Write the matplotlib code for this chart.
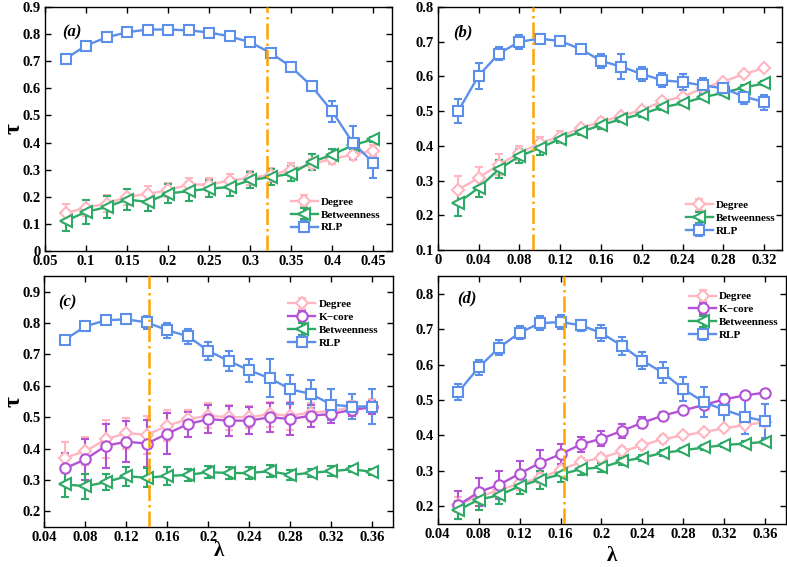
import matplotlib
matplotlib.use("Agg")
import matplotlib.pyplot as plt
from matplotlib.ticker import FuncFormatter

plt.rcParams['font.family'] = ['Liberation Serif', 'DejaVu Serif']
plt.rcParams['font.weight'] = 'bold'

# ---------------- data ----------------
# panel (a)
xa = [0.075, 0.1, 0.125, 0.15, 0.175, 0.2, 0.225, 0.25, 0.275, 0.3, 0.325, 0.35, 0.375, 0.4, 0.425, 0.45]
a_deg = [0.14, 0.16, 0.175, 0.20, 0.21, 0.225, 0.245, 0.245, 0.26, 0.27, 0.28, 0.30, 0.32, 0.34, 0.355, 0.37]
a_deg_e = [0.035, 0.03, 0.03, 0.03, 0.03, 0.025, 0.025, 0.025, 0.025, 0.025, 0.025, 0.025, 0.02, 0.02, 0.02, 0.02]
a_btw = [0.111, 0.144, 0.162, 0.19, 0.181, 0.212, 0.221, 0.23, 0.236, 0.261, 0.273, 0.285, 0.328, 0.355, 0.39, 0.412]
a_btw_e = [0.037, 0.045, 0.04, 0.038, 0.035, 0.035, 0.035, 0.032, 0.032, 0.03, 0.03, 0.028, 0.03, 0.022, 0.015, 0.01]
a_rlp = [0.709, 0.758, 0.788, 0.807, 0.817, 0.817, 0.814, 0.806, 0.792, 0.770, 0.731, 0.679, 0.608, 0.515, 0.40, 0.326]
a_rlp_e = [0.005, 0.006, 0.005, 0.005, 0.005, 0.005, 0.005, 0.005, 0.005, 0.006, 0.01, 0.012, 0.012, 0.04, 0.06, 0.055]
a_vline = 0.32

# panel (b)
xb = [0.02, 0.04, 0.06, 0.08, 0.1, 0.12, 0.14, 0.16, 0.18, 0.2, 0.22, 0.24, 0.26, 0.28, 0.3, 0.32]
b_deg = [0.274, 0.308, 0.346, 0.379, 0.408, 0.427, 0.451, 0.47, 0.486, 0.504, 0.528, 0.542, 0.566, 0.585, 0.607, 0.624]
b_deg_e = [0.04, 0.03, 0.03, 0.02, 0.018, 0.015, 0.01, 0.01, 0.008, 0.008, 0.008, 0.008, 0.008, 0.008, 0.006, 0.006]
b_btw = [0.236, 0.279, 0.333, 0.37, 0.394, 0.42, 0.44, 0.46, 0.477, 0.492, 0.511, 0.523, 0.54, 0.553, 0.568, 0.58]
b_btw_e = [0.038, 0.027, 0.025, 0.02, 0.02, 0.012, 0.01, 0.01, 0.008, 0.008, 0.008, 0.006, 0.006, 0.006, 0.006, 0.006]
b_rlp = [0.50, 0.602, 0.666, 0.70, 0.709, 0.702, 0.679, 0.645, 0.628, 0.607, 0.589, 0.584, 0.574, 0.566, 0.542, 0.526]
b_rlp_e = [0.034, 0.037, 0.02, 0.02, 0.012, 0.012, 0.012, 0.021, 0.036, 0.02, 0.02, 0.024, 0.022, 0.02, 0.022, 0.022]
b_vline = 0.093

# panel (c)
xc = [0.06, 0.08, 0.1, 0.12, 0.14, 0.16, 0.18, 0.2, 0.22, 0.24, 0.26, 0.28, 0.3, 0.32, 0.34, 0.36]
c_deg = [0.371, 0.392, 0.43, 0.449, 0.444, 0.473, 0.494, 0.505, 0.50, 0.50, 0.51, 0.505, 0.515, 0.52, 0.531, 0.537]
c_deg_e = [0.05, 0.045, 0.06, 0.05, 0.06, 0.05, 0.03, 0.04, 0.04, 0.035, 0.04, 0.045, 0.03, 0.03, 0.02, 0.02]
c_kc = [0.337, 0.366, 0.409, 0.422, 0.416, 0.448, 0.478, 0.494, 0.489, 0.489, 0.50, 0.494, 0.505, 0.51, 0.524, 0.531]
c_kc_e = [0.05, 0.065, 0.07, 0.065, 0.075, 0.065, 0.04, 0.045, 0.048, 0.044, 0.046, 0.05, 0.035, 0.03, 0.02, 0.02]
c_btw = [0.286, 0.28, 0.293, 0.312, 0.307, 0.313, 0.316, 0.325, 0.322, 0.322, 0.328, 0.316, 0.323, 0.328, 0.334, 0.326]
c_btw_e = [0.04, 0.04, 0.025, 0.03, 0.03, 0.028, 0.02, 0.02, 0.02, 0.018, 0.02, 0.015, 0.013, 0.015, 0.01, 0.01]
c_rlp = [0.747, 0.79, 0.809, 0.812, 0.802, 0.777, 0.758, 0.711, 0.679, 0.649, 0.624, 0.589, 0.574, 0.54, 0.534, 0.534]
c_rlp_e = [0.01, 0.015, 0.008, 0.01, 0.02, 0.024, 0.024, 0.028, 0.033, 0.036, 0.06, 0.047, 0.045, 0.05, 0.04, 0.056]
c_vline = 0.142

# panel (d)
xd = [0.06, 0.08, 0.1, 0.12, 0.14, 0.16, 0.18, 0.2, 0.22, 0.24, 0.26, 0.28, 0.3, 0.32, 0.34, 0.36]
d_deg = [0.205, 0.228, 0.245, 0.265, 0.28, 0.303, 0.325, 0.337, 0.355, 0.372, 0.39, 0.40, 0.41, 0.42, 0.43, 0.437]
d_deg_e = [0.02, 0.02, 0.02, 0.018, 0.015, 0.015, 0.012, 0.012, 0.012, 0.01, 0.01, 0.008, 0.008, 0.008, 0.008, 0.008]
d_kc = [0.203, 0.24, 0.261, 0.292, 0.323, 0.347, 0.375, 0.391, 0.413, 0.436, 0.456, 0.471, 0.486, 0.502, 0.513, 0.521]
d_kc_e = [0.04, 0.04, 0.04, 0.036, 0.035, 0.028, 0.022, 0.022, 0.02, 0.016, 0.01, 0.008, 0.008, 0.008, 0.006, 0.006]
d_btw = [0.189, 0.219, 0.231, 0.257, 0.275, 0.29, 0.305, 0.31, 0.327, 0.337, 0.351, 0.358, 0.366, 0.373, 0.377, 0.382]
d_btw_e = [0.025, 0.03, 0.025, 0.022, 0.025, 0.02, 0.016, 0.012, 0.01, 0.008, 0.008, 0.006, 0.006, 0.006, 0.006, 0.006]
d_rlp = [0.522, 0.592, 0.648, 0.69, 0.717, 0.72, 0.711, 0.689, 0.653, 0.611, 0.577, 0.531, 0.494, 0.472, 0.453, 0.44]
d_rlp_e = [0.023, 0.02, 0.02, 0.018, 0.02, 0.02, 0.016, 0.022, 0.025, 0.024, 0.03, 0.033, 0.042, 0.045, 0.05, 0.048]
d_vline = 0.163

# ---------------- styles ----------------
C_DEG = '#FFB6C1'
C_KC = '#B452D6'
C_BTW = '#2EAA66'
C_RLP = '#5B8FEA'
C_V = '#FFA500'

LEG_PROP = {'weight': 'bold', 'size': 8}

fig = plt.figure(figsize=(7.87, 5.67), dpi=100)

def fmt(v, pos):
    return '%g' % round(v, 4)

def series(ax, x, y, e, color, marker, label, ms=7):
    ax.errorbar(x, y, yerr=e, color=color, marker=marker, markersize=ms,
                markerfacecolor='white', markeredgecolor=color, markeredgewidth=1.5,
                linewidth=1.7, elinewidth=1.5, capsize=3, capthick=1.5, label=label)

def style(ax, xlim, ylim, xticks, yticks, tag, tagpos, vline):
    ax.set_xlim(*xlim)
    ax.set_ylim(*ylim)
    ax.set_xticks(xticks)
    ax.set_yticks(yticks)
    ax.xaxis.set_major_formatter(FuncFormatter(fmt))
    ax.yaxis.set_major_formatter(FuncFormatter(fmt))
    ax.tick_params(direction='in', top=True, right=True, length=4, width=1,
                   labelsize=10.5, pad=3)
    for lab in ax.get_xticklabels() + ax.get_yticklabels():
        lab.set_fontweight('bold')
    for sp in ax.spines.values():
        sp.set_linewidth(1.0)
    ax.axvline(vline, color=C_V, linestyle='-.', linewidth=1.8, zorder=5)
    ax.text(tagpos[0], tagpos[1], tag, transform=ax.transAxes, fontsize=12,
            fontstyle='italic', fontweight='bold', va='center', ha='left')

def legend(ax, loc, anchor):
    ax.legend(loc=loc, bbox_to_anchor=anchor, frameon=False, prop=LEG_PROP,
              handlelength=2.4, borderaxespad=0.0, labelspacing=0.28,
              handletextpad=0.3, borderpad=0.4)

# (a)
ax = fig.add_axes([0.0572, 0.5573, 0.441, 0.4303])
series(ax, xa, a_deg, a_deg_e, C_DEG, 'D', 'Degree', ms=6)
series(ax, xa, a_btw, a_btw_e, C_BTW, '<', 'Betweenness', ms=8)
series(ax, xa, a_rlp, a_rlp_e, C_RLP, 's', 'RLP', ms=6.5)
style(ax, (0.05, 0.473), (0, 0.9),
      [0.05, 0.1, 0.15, 0.2, 0.25, 0.3, 0.35, 0.4, 0.45],
      [0, 0.1, 0.2, 0.3, 0.4, 0.5, 0.6, 0.7, 0.8, 0.9], '(a)', (0.049, 0.895), a_vline)
ax.set_ylabel('τ', fontsize=17, fontweight='bold')
ax.yaxis.set_label_coords(-0.058, 0.5)
legend(ax, 'lower right', (0.98, 0.058))

# (b)
ax = fig.add_axes([0.5562, 0.559, 0.437, 0.4286])
series(ax, xb, b_deg, b_deg_e, C_DEG, 'D', 'Degree', ms=6)
series(ax, xb, b_btw, b_btw_e, C_BTW, '<', 'Betweenness', ms=8)
series(ax, xb, b_rlp, b_rlp_e, C_RLP, 's', 'RLP', ms=6.5)
style(ax, (0, 0.337), (0.1, 0.8),
      [0, 0.04, 0.08, 0.12, 0.16, 0.2, 0.24, 0.28, 0.32],
      [0.1, 0.2, 0.3, 0.4, 0.5, 0.6, 0.7, 0.8], '(b)', (0.044, 0.895), b_vline)
legend(ax, 'lower right', (0.995, 0.04))

# (c)
ax = fig.add_axes([0.0565, 0.0705, 0.4428, 0.4427])
series(ax, xc, c_deg, c_deg_e, C_DEG, 'D', 'Degree', ms=6)
series(ax, xc, c_kc, c_kc_e, C_KC, 'o', 'K\u2212core', ms=7.5)
series(ax, xc, c_btw, c_btw_e, C_BTW, '<', 'Betweenness', ms=8)
series(ax, xc, c_rlp, c_rlp_e, C_RLP, 's', 'RLP', ms=6.5)
style(ax, (0.04, 0.38), (0.15, 0.95),
      [0.04, 0.08, 0.12, 0.16, 0.2, 0.24, 0.28, 0.32, 0.36],
      [0.2, 0.3, 0.4, 0.5, 0.6, 0.7, 0.8, 0.9], '(c)', (0.039, 0.896), c_vline)
ax.set_ylabel('τ', fontsize=17, fontweight='bold')
ax.yaxis.set_label_coords(-0.058, 0.5)
ax.set_xlabel('λ', fontsize=15, fontweight='bold')
ax.xaxis.set_label_coords(0.5, -0.056)
legend(ax, 'upper right', (0.97, 0.925))

# (d)
ax = fig.add_axes([0.5562, 0.0758, 0.4422, 0.4374])
series(ax, xd, d_deg, d_deg_e, C_DEG, 'D', 'Degree', ms=6)
series(ax, xd, d_kc, d_kc_e, C_KC, 'o', 'K\u2212core', ms=7.5)
series(ax, xd, d_btw, d_btw_e, C_BTW, '<', 'Betweenness', ms=8)
series(ax, xd, d_rlp, d_rlp_e, C_RLP, 's', 'RLP', ms=6.5)
style(ax, (0.04, 0.38), (0.15, 0.85),
      [0.04, 0.08, 0.12, 0.16, 0.2, 0.24, 0.28, 0.32, 0.36],
      [0.2, 0.3, 0.4, 0.5, 0.6, 0.7, 0.8], '(d)', (0.055, 0.91), d_vline)
ax.set_xlabel('λ', fontsize=15, fontweight='bold')
ax.xaxis.set_label_coords(0.5, -0.089)
legend(ax, 'upper right', (0.993, 0.955))

fig.savefig('out.png', dpi=100)
